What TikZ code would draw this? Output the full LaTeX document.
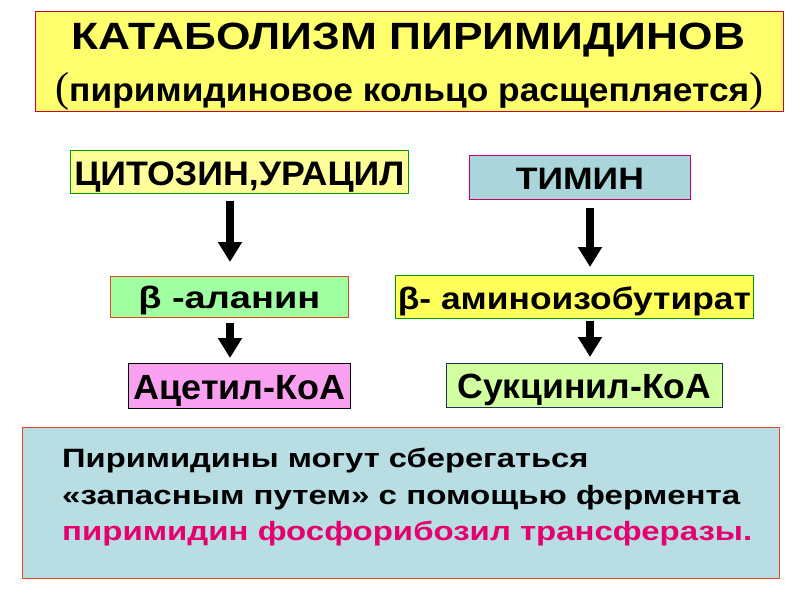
\documentclass[tikz,border=0pt]{standalone}
\usepackage{graphicx}
\usepackage{fontspec}
\setmainfont{Liberation Sans}
\newfontfamily\parfont{Liberation Serif}
\usetikzlibrary{arrows.meta}
\definecolor{titlefill}{RGB}{255,255,110}
\definecolor{titledraw}{RGB}{204,0,51}
\definecolor{cytfill}{RGB}{255,255,153}
\definecolor{gdraw}{RGB}{0,153,0}
\definecolor{timfill}{RGB}{170,213,218}
\definecolor{timdraw}{RGB}{204,0,102}
\definecolor{alafill}{RGB}{160,255,160}
\definecolor{odraw}{RGB}{225,70,30}
\definecolor{aminofill}{RGB}{255,255,90}
\definecolor{acetfill}{RGB}{250,160,240}
\definecolor{succfill}{RGB}{210,255,160}
\definecolor{succdraw}{RGB}{30,50,80}
\definecolor{botfill}{RGB}{184,222,227}
\definecolor{magtext}{RGB}{230,0,110}
\newcommand\fitw[3]{\resizebox{#1pt}{\height}{\fontsize{#2}{#2}\selectfont\bfseries #3}}
\begin{document}
\begin{tikzpicture}[x=1pt,y=-1pt,
  box/.style={draw, line width=0.8pt, inner sep=0pt, anchor=north west},
  txt/.style={inner sep=0pt, anchor=base west},
  arr/.style={line width=8pt, -{Triangle[width=23pt,length=20pt]}}]
\useasboundingbox[fill=white] (0,0) rectangle (800,600);
% title
\node[box, fill=titlefill, draw=titledraw, minimum width=748pt, minimum height=100pt] (title) at (35,11) {};
\node[txt] (t1) at (71,49) {\fitw{674}{38}{КАТАБОЛИЗМ ПИРИМИДИНОВ}};
\node[txt] (t2) at (55,101) {{\parfont\fontsize{42}{42}\selectfont(}\fitw{680}{33}{пиримидиновое кольцо расщепляется}{\parfont\fontsize{42}{42}\selectfont)}};
% boxes
\node[box, fill=cytfill, draw=gdraw, minimum width=338pt, text height=35pt, text depth=8pt] (cyt) at (70,150) {\fitw{330}{34}{ЦИТОЗИН,УРАЦИЛ}};
\node[box, fill=timfill, draw=timdraw, minimum width=221pt, text height=34pt, text depth=10pt] (tim) at (469,155) {\fitw{128}{31}{ТИМИН}};
\node[box, fill=alafill, draw=odraw, minimum width=238pt, text height=32pt, text depth=9pt] (ala) at (110,276) {\fitw{182}{31}{β -аланин}};
\node[box, fill=aminofill, draw=gdraw, minimum width=358pt, text height=34pt, text depth=9pt] (amino) at (395,275) {\fitw{353}{31}{β- аминоизобутират}};
\node[box, fill=acetfill, draw=black, minimum width=222pt, text height=36pt, text depth=9pt] (acet) at (128,363) {\fitw{212}{35}{Ацетил-КоА}};
\node[box, fill=succfill, draw=succdraw, minimum width=276pt, text height=35pt, text depth=9pt] (succ) at (446,363) {\fitw{254}{35}{Сукцинил-КоА}};
% arrows
\coordinate (cl) at (230,0);
\coordinate (cr) at (590,0);
\draw[arr, shorten <=7pt, shorten >=14pt] (cl |- cyt.south) -- (cl |- ala.north);
\draw[arr, shorten <=5pt, shorten >=5pt] (cl |- ala.south) -- (cl |- acet.north);
\draw[arr, shorten <=8pt, shorten >=8pt] (cr |- tim.south) -- (cr |- amino.north);
\draw[arr, shorten <=2pt, shorten >=6pt] (cr |- amino.south) -- (cr |- succ.north);
% bottom box
\node[box, fill=botfill, draw=odraw, minimum width=757pt, minimum height=151pt] (bot) at (22,427) {};
\node[txt] (b1) at (62,467) {\fitw{526}{26.5}{Пиримидины могут сберегаться}};
\node[txt] (b2) at (62,504) {\fitw{678}{26.5}{«запасным путем» с помощью фермента}};
\node[txt] (b3) at (62,540) {\color{magtext}\fitw{690}{26.5}{пиримидин фосфорибозил трансферазы.}};
\end{tikzpicture}
\end{document}
